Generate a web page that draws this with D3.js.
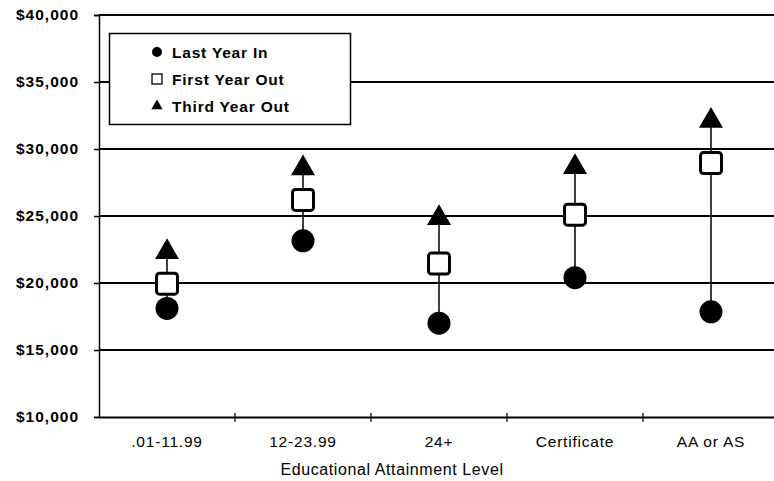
<!DOCTYPE html>
<html>
<head>
<meta charset="utf-8">
<script src="https://cdn.jsdelivr.net/npm/d3@7/dist/d3.min.js"></script>
<style>
  body { margin: 0; background: #fff; }
  text { font-family: "Liberation Sans", Arial, sans-serif; fill: #000; }
</style>
</head>
<body>
<div id="chart"></div>
<script>
const levels = [".01-11.99", "12-23.99", "24+", "Certificate", "AA or AS"]
const lastYearIn = [18100, 23150, 17000, 20400, 17850]
const firstYearOut = [19950, 26200, 21450, 25100, 28950]
const thirdYearOut = [22300, 28550, 24850, 28650, 32100]
const yTicks = [10000, 15000, 20000, 25000, 30000, 35000, 40000]
const seriesNames = ["Last Year In", "First Year Out", "Third Year Out"]

const chart = function (id) {
    const width = 774
    const height = 481
    const margin = {top: 15, right: -5, bottom: 64, left: 99}

    const svg = d3.select("#" + id)
        .append("svg")
        .attr("width", width)
        .attr("height", height)

    const x = d3.scaleBand()
        .domain(levels)
        .range([margin.left, width - margin.right])

    const y = d3.scaleLinear()
        .domain([10000, 40000])
        .range([height - margin.bottom, margin.top])

    const layer_grid = svg.append("g")
    const layer_axes = svg.append("g")
    const layer_lines = svg.append("g")
    const layer_marks = svg.append("g")
    const layer_legend = svg.append("g")

    // horizontal gridlines
    layer_grid.selectAll("line")
        .data(yTicks.slice(1))
        .enter().append("line")
        .attr("x1", margin.left)
        .attr("x2", width)
        .attr("y1", d => y(d))
        .attr("y2", d => y(d))
        .attr("stroke", "#000")
        .attr("stroke-width", 2)

    // y axis
    const yAxis = layer_axes.append("g")
        .attr("transform", `translate(${margin.left},0)`)
        .call(d3.axisLeft(y).tickValues(yTicks).tickSize(5).tickPadding(15)
            .tickFormat(d => "$" + d3.format(",")(d)))
    yAxis.select(".domain").attr("stroke-width", 1.5)
    yAxis.selectAll(".tick line").attr("stroke-width", 1.5)
    yAxis.selectAll("text")
        .style("font-size", "15.5px")
        .style("font-weight", "bold")
        .style("letter-spacing", "1px")
        .attr("font-family", null)

    // x axis
    const xAxis = layer_axes.append("g")
        .attr("transform", `translate(0,${y(10000)})`)
        .call(d3.axisBottom(x).tickSize(0).tickPadding(19).tickSizeOuter(0))
    xAxis.select(".domain").attr("stroke-width", 2)
    xAxis.selectAll("text")
        .style("font-size", "15.5px")
        .style("letter-spacing", "0.8px")
        .attr("font-family", null)
    xAxis.selectAll(".sep")
        .data(levels.slice(1))
        .enter().append("line")
        .attr("class", "sep")
        .attr("x1", d => x(d))
        .attr("x2", d => x(d))
        .attr("y1", -4)
        .attr("y2", 5)
        .attr("stroke", "#000")
        .attr("stroke-width", 1.2)

    svg.append("text")
        .attr("x", 392)
        .attr("y", 475)
        .attr("text-anchor", "middle")
        .style("font-size", "16px")
        .style("letter-spacing", "0.6px")
        .text("Educational Attainment Level")

    const cx = d => x(d) + x.bandwidth() / 2

    // hi-lo lines
    layer_lines.selectAll("line")
        .data(levels)
        .enter().append("line")
        .attr("x1", d => cx(d))
        .attr("x2", d => cx(d))
        .attr("y1", (d, i) => y(lastYearIn[i]))
        .attr("y2", (d, i) => y(thirdYearOut[i]))
        .attr("stroke", "#000")
        .attr("stroke-width", 1.5)

    const tri = d3.symbol().type(d3.symbolTriangle)

    layer_marks.selectAll(".tri")
        .data(levels)
        .enter().append("path")
        .attr("class", "tri")
        .attr("d", tri.size(250))
        .attr("transform", (d, i) => `translate(${cx(d)},${y(thirdYearOut[i])})`)
        .attr("fill", "#000")

    layer_marks.selectAll(".dot")
        .data(levels)
        .enter().append("circle")
        .attr("class", "dot")
        .attr("cx", d => cx(d))
        .attr("cy", (d, i) => y(lastYearIn[i]))
        .attr("r", 11.5)
        .attr("fill", "#000")

    layer_marks.selectAll(".sq")
        .data(levels)
        .enter().append("rect")
        .attr("class", "sq")
        .attr("x", d => cx(d) - 10.5)
        .attr("y", (d, i) => y(firstYearOut[i]) - 10.5)
        .attr("width", 21)
        .attr("height", 21)
        .attr("rx", 3)
        .attr("fill", "#fff")
        .attr("stroke", "#000")
        .attr("stroke-width", 3)

    // legend
    layer_legend.append("rect")
        .attr("x", 109.5)
        .attr("y", 33.5)
        .attr("width", 241)
        .attr("height", 91)
        .attr("fill", "#fff")
        .attr("stroke", "#000")
        .attr("stroke-width", 1.5)

    const rows = layer_legend.selectAll(".row")
        .data(seriesNames)
        .enter().append("g")
        .attr("class", "row")
        .attr("transform", (d, i) => `translate(157,${52 + i * 27})`)

    rows.append("text")
        .attr("x", 15)
        .attr("y", 6)
        .style("font-size", "15.5px")
        .style("font-weight", "bold")
        .style("letter-spacing", "0.8px")
        .text(d => d)

    rows.filter((d, i) => i === 0).append("circle")
        .attr("r", 5).attr("fill", "#000")
    rows.filter((d, i) => i === 1).append("rect")
        .attr("x", -5).attr("y", -5).attr("width", 10).attr("height", 10)
        .attr("fill", "#fff").attr("stroke", "#000").attr("stroke-width", 1.3)
    rows.filter((d, i) => i === 2).append("path")
        .attr("d", tri.size(55)).attr("fill", "#000")
}

chart("chart")
</script>
</body>
</html>
